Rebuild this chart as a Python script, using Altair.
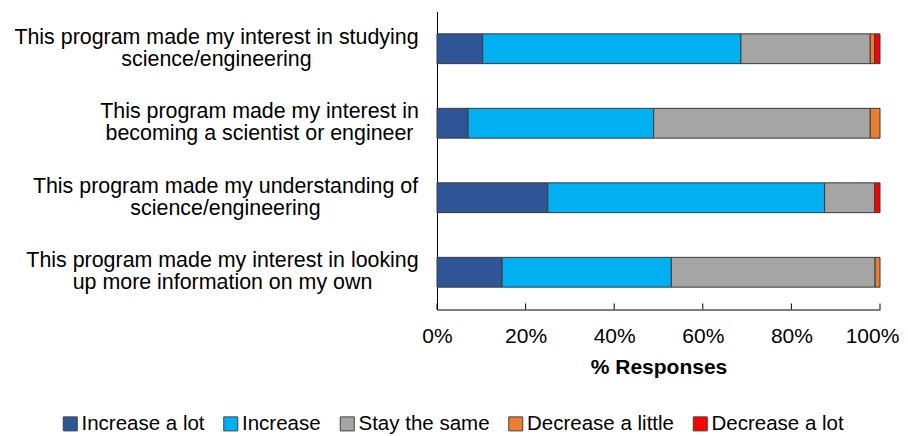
import altair as alt
import pandas as pd

questions = [
    "This program made my interest in studying\nscience/engineering",
    "This program made my interest in\nbecoming a scientist or engineer",
    "This program made my understanding of\nscience/engineering",
    "This program made my interest in looking\nup more information on my own",
]
responses = ["Increase a lot", "Increase", "Stay the same", "Decrease a little", "Decrease a lot"]
increase_a_lot = [10.3, 7.0, 25.0, 14.7]
increase = [58.3, 41.9, 62.5, 38.2]
stay_the_same = [29.2, 48.9, 11.3, 46.0]
decrease_a_little = [1.0, 2.2, 0.0, 1.1]
decrease_a_lot = [1.2, 0.0, 1.2, 0.0]
colors = ["#2F5597", "#00B0F0", "#A5A5A5", "#ED7D31", "#FF0000"]
x_ticks = [0, 20, 40, 60, 80, 100]

series = [increase_a_lot, increase, stay_the_same, decrease_a_little, decrease_a_lot]
rows = []
for k, (resp, vals) in enumerate(zip(responses, series)):
    for q, v in zip(questions, vals):
        if v > 0:
            rows.append({"question": q, "response": resp, "pct": v, "k": k})
df = pd.DataFrame(rows)
ticks_df = pd.DataFrame({"t": x_ticks})

label_pad = {
    "condition": [
        {"test": "indexof(datum.value, 'studying') >= 0", "value": 221},
        {"test": "indexof(datum.value, 'becoming') >= 0", "value": 178},
        {"test": "indexof(datum.value, 'understanding') >= 0", "value": 212},
    ],
    "value": 215,
}

x_axis = alt.Axis(
    values=x_ticks,
    labelExpr="datum.value + '%'",
    title="% Responses",
    ticks=False,
    grid=False,
    labelFlush=False,
    labelPadding=16,
    labelOffset={"condition": {"test": "datum.value >= 100", "value": -8}, "value": 0},
    titlePadding=10,
    domainColor="black",
)
x_scale = alt.Scale(domain=[0, 100], nice=False)

bars = alt.Chart(df).mark_bar(stroke="#3a3a3a", strokeWidth=1).encode(
    x=alt.X("pct:Q", stack="zero", scale=x_scale, axis=x_axis),
    y=alt.Y(
        "question:N",
        sort=questions,
        scale=alt.Scale(paddingInner=0.6, paddingOuter=0.3),
        axis=alt.Axis(
            title=None,
            ticks=False,
            grid=False,
            labelExpr="split(datum.label, '\\n')",
            labelAlign="center",
            labelPadding=label_pad,
            labelOffset=-11,
            labelLineHeight=22,
            labelFontSize=21.4,
            labelLimit=600,
            domainColor="black",
        ),
    ),
    color=alt.Color(
        "response:N",
        sort=responses,
        scale=alt.Scale(domain=responses, range=colors),
        legend=alt.Legend(
            title=None,
            orient="none",
            legendX=-377,
            legendY=402,
            direction="horizontal",
            symbolType="square",
            symbolSize=196,
            symbolStrokeColor="#404040",
            symbolStrokeWidth=1,
            labelFontSize=20.5,
            labelOffset=1,
            columnPadding=15.5,
            padding=0,
            labelColor="black",
            labelLimit=400,
        ),
    ),
    order=alt.Order("k:Q"),
)

tick_marks = alt.Chart(ticks_df).mark_rule(color="black", strokeWidth=1).encode(
    x=alt.X("t:Q", scale=x_scale, axis=x_axis),
    y=alt.value(292),
    y2=alt.value(298),
)

chart = (
    alt.layer(bars, tick_marks)
    .properties(
        width=443,
        height=298,
        autosize=alt.AutoSizeParams(type="none"),
        padding={"left": 429, "top": 3.5, "right": 20, "bottom": 126.5},
    )
    .configure(font="Liberation Sans")
    .configure_view(stroke=None)
    .configure_axis(labelFontSize=21, labelColor="black", titleFontSize=21,
                    titleFontWeight="bold", titleColor="black", domainWidth=1)
)

chart.save("out.html", embed_options={"renderer": "svg", "actions": False})
